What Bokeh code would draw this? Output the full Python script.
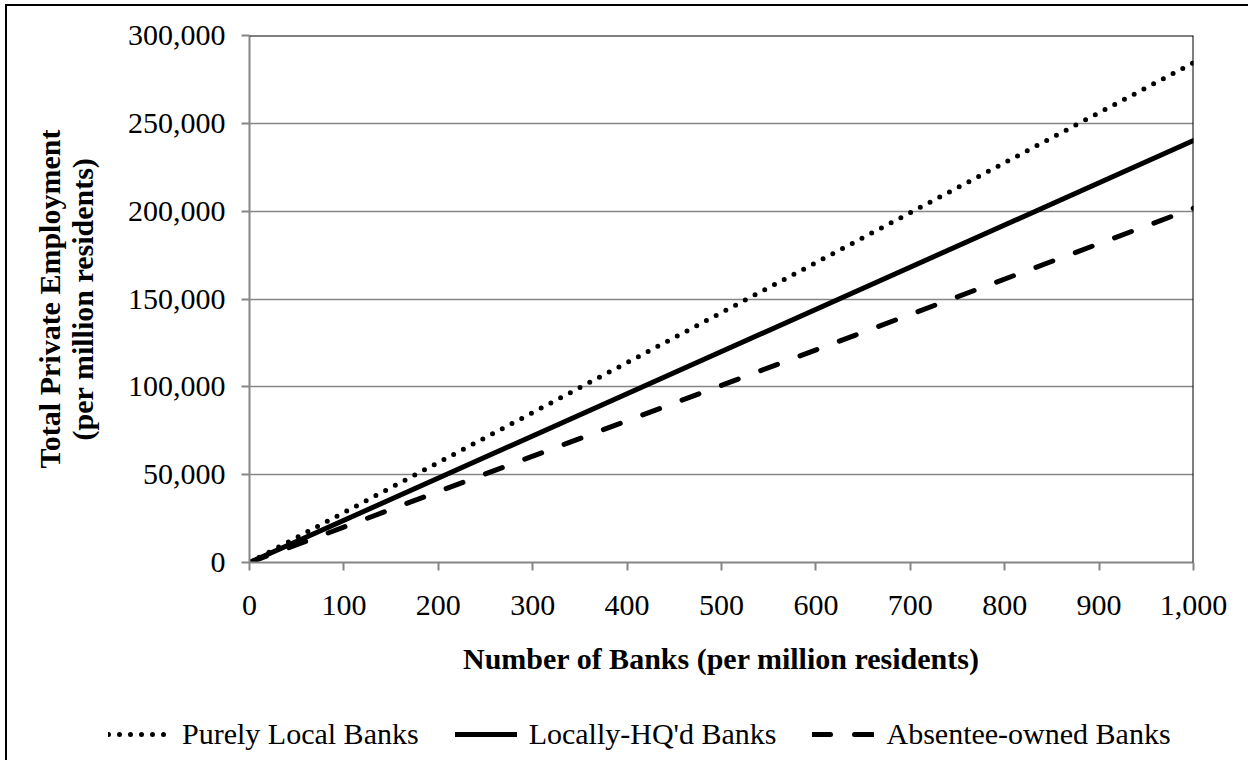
from bokeh.plotting import figure
from bokeh.models import (Range1d, FixedTicker, NumeralTickFormatter, Span,
                          Legend, LegendItem)
from bokeh.embed import file_html
from bokeh.resources import INLINE

# ---- data ----
banks = [0, 1000]
purely_local = [0, 284500]
locally_hq = [0, 240200]
absentee = [0, 201700]

x_ticks = [0, 100, 200, 300, 400, 500, 600, 700, 800, 900, 1000]
y_ticks = [0, 50000, 100000, 150000, 200000, 250000, 300000]

x_title = "Number of Banks (per million residents)"
y_title = "Total Private Employment\n(per million residents)"
series_names = ["Purely Local Banks", "Locally-HQ'd Banks", "Absentee-owned Banks"]

FONT = "Liberation Serif"
GRAY = "#868686"
W = 1243

p = figure(width=W, height=694, output_backend="svg", toolbar_location=None,
           x_range=Range1d(0, 1000), y_range=Range1d(0, 300000),
           min_border_left=242, min_border_right=57, min_border_top=29,
           min_border_bottom=138)
p.outline_line_color = None
p.background_fill_color = "white"
p.border_fill_color = "white"
p.styles = {"border-left": "2px solid black", "border-top": "2px solid black",
            "margin-left": "5px", "margin-top": "4px"}

# axes
for ax in (p.xaxis[0], p.yaxis[0]):
    ax.axis_line_color = GRAY
    ax.axis_line_width = 2
    ax.major_tick_line_color = GRAY
    ax.major_tick_line_width = 2
    ax.major_tick_out = 8
    ax.major_tick_in = 0
    ax.minor_tick_line_color = None
    ax.major_label_text_font = FONT
    ax.major_label_text_font_size = "30px"
    ax.major_label_text_color = "black"
    ax.formatter = NumeralTickFormatter(format="0,0")
    ax.axis_label_text_font = FONT
    ax.axis_label_text_font_size = "30px"
    ax.axis_label_text_font_style = "bold"
    ax.axis_label_text_color = "black"
    ax.axis_label_text_line_height = 1.0
p.xaxis[0].ticker = FixedTicker(ticks=x_ticks)
p.yaxis[0].ticker = FixedTicker(ticks=y_ticks)
p.xaxis[0].major_label_standoff = 25
p.yaxis[0].major_label_standoff = 16
p.xaxis[0].axis_label = x_title
p.yaxis[0].axis_label = y_title
p.xaxis[0].axis_label_standoff = 24
p.yaxis[0].axis_label_standoff = 26

p.xgrid.grid_line_color = None
p.ygrid.grid_line_color = GRAY
p.ygrid.grid_line_width = 1.3
p.ygrid.ticker = FixedTicker(ticks=y_ticks)

# black plot-area border on top and right
p.add_layout(Span(location=300000, dimension="width", line_color="black", line_width=2))
p.add_layout(Span(location=1000, dimension="height", line_color="black", line_width=2))

line_styles = [dict(line_dash="0 11"), dict(), dict(line_dash="18 24")]
series = [purely_local, locally_hq, absentee]
for vals, st in zip(series, line_styles):
    p.line(banks, vals, line_color="black", line_width=5, line_cap="round", **st)

# legend strip below the chart (separate root so it is not frame-aligned)
leg = figure(width=W, height=62, output_backend="svg", toolbar_location=None,
             x_range=Range1d(0, 1), y_range=Range1d(0, 1),
             min_border_left=0, min_border_right=0, min_border_top=0,
             min_border_bottom=0)
leg.axis.visible = False
leg.grid.visible = False
leg.outline_line_color = None
leg.border_fill_color = "white"
leg.styles = {"border-left": "2px solid black", "margin-left": "5px"}
items = []
for name, st in zip(series_names, line_styles):
    # off-range stand-in renderer, used only for the legend sample
    r = leg.line([-2, -1], [-2, -1], line_color="black", line_width=5,
                 line_cap="round", **st)
    items.append(LegendItem(label=name, renderers=[r]))
legend = Legend(items=items, orientation="horizontal", location=(101, 9),
                glyph_width=62, glyph_height=34, label_height=34,
                label_standoff=12, spacing=36, padding=0, margin=0,
                border_line_color=None, background_fill_alpha=0,
                label_text_font=FONT, label_text_font_size="30px",
                label_text_color="black")
leg.add_layout(legend)

open("out.html", "w").write(file_html([p, leg], INLINE))
